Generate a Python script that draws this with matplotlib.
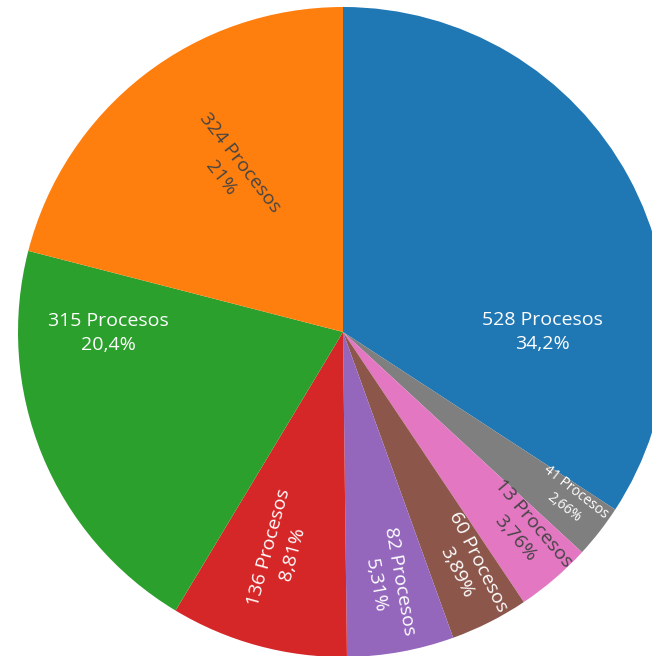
import numpy as np
import matplotlib
matplotlib.use('Agg')
import matplotlib.pyplot as plt

# slice sizes (clockwise from 12 o'clock)
procesos = [528, 41, 58, 60, 82, 136, 315, 324]
# counts printed in the labels (as shown in the source chart)
etiqueta_n = [528, 41, 13, 60, 82, 136, 315, 324]
colores = ['#1f77b4', '#7f7f7f', '#e377c2', '#8c564b',
           '#9467bd', '#d62728', '#2ca02c', '#ff7f0e']
texto_col = ['white', 'white', '#444444', 'white',
             'white', 'white', 'white', '#444444']

# label layout: radial fraction, angle shift (deg), mode, font size
lab_r = [0.615, 0.868, 0.828, 0.818, 0.785, 0.70, 0.723, 0.606]
lab_shift = [-28.4, 1.4, 1.8, 1.0, -0.2, -0.8, -22.1, -2.8]
lab_mode = ['h', 'r', 'r', 'r', 'r', 'r', 'h', 'r']
lab_size = [14, 10, 14, 14, 14, 14, 14, 14]

W, H = 652, 656
cx, cy, R = 343, 332, 325

fig = plt.figure(figsize=(W / 100, H / 100), dpi=100)
ax = fig.add_axes([0, 0, 1, 1])
ax.axis('off')

wedges, _ = ax.pie(procesos, colors=colores, startangle=90, counterclock=False,
                   radius=1, wedgeprops=dict(linewidth=0))
ax.set_xlim(-cx / R, (W - cx) / R)
ax.set_ylim(-(H - cy) / R, cy / R)
ax.set_aspect('auto')

total = sum(procesos)
for i, w in enumerate(wedges):
    mid = (w.theta1 + w.theta2) / 2
    ang = np.deg2rad(mid + lab_shift[i])
    x = lab_r[i] * np.cos(ang)
    y = lab_r[i] * np.sin(ang)
    pct = '{:.3g}'.format(100 * procesos[i] / total).replace('.', ',')
    txt = f'{etiqueta_n[i]} Procesos\n{pct}%'
    if lab_mode[i] == 'h':
        rot = 0
    else:
        rot = mid
        if rot > 90:
            rot -= 180
        elif rot < -90:
            rot += 180
    ax.text(x, y, txt, ha='center', va='center', rotation=rot,
            rotation_mode='anchor', multialignment='center',
            fontsize=lab_size[i], color=texto_col[i], family='Open Sans',
            linespacing=1.45)

fig.savefig('out.png', dpi=100)
